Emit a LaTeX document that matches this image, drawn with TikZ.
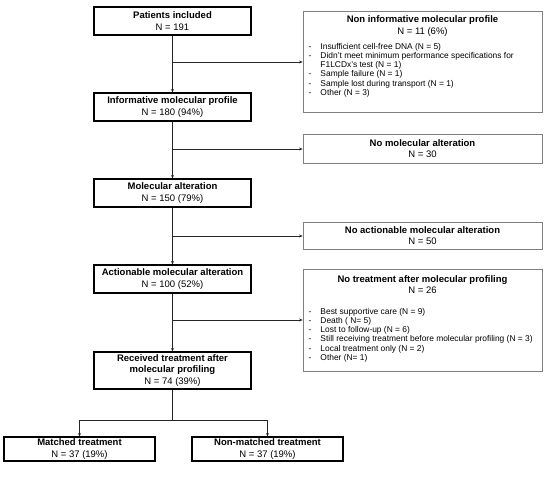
\documentclass[tikz,border=0pt]{standalone}
\usepackage{fontspec}
\setmainfont{Liberation Sans}
\usetikzlibrary{arrows.meta}
\begin{document}
\begin{tikzpicture}[x=1pt,y=-1pt,
  mainbox/.style={draw=black,line width=1.1pt,inner sep=0pt,align=center,
    font=\fontsize{9.5}{11.4}\selectfont,minimum width=157pt,minimum height=28pt},
  botbox/.style={mainbox,minimum width=151pt,minimum height=24pt},
  sidebox/.style={draw=black!50,line width=0.8pt,inner sep=0pt,minimum width=239pt},
  sidetitle/.style={inner sep=0pt,align=center,font=\fontsize{9.5}{11.4}\selectfont},
  bullets/.style={inner sep=0pt,anchor=west,font=\fontsize{8.4}{9.2}\selectfont},
  conn/.style={draw=black!85,line width=0.8pt},
  arr/.style={conn,-{Stealth[length=3.5pt,width=3pt]}}
]
\path[fill=white] (0,0) rectangle (550,485);
\useasboundingbox (0,0) rectangle (550,485);

% main column
\node[mainbox] (pat) at (172.5,21) {\textbf{Patients included}\\N = 191};
\node[mainbox] (inf) at (172.5,107) {\textbf{Informative molecular profile}\\N = 180 (94\%)};
\node[mainbox] (mol) at (172.5,193) {\textbf{Molecular alteration}\\N = 150 (79\%)};
\node[mainbox] (act) at (172.5,279) {\textbf{Actionable molecular alteration}\\N = 100 (52\%)};
\node[mainbox,minimum height=37pt] (rec) at (172.5,370.5) {\textbf{Received treatment after}\\\textbf{molecular profiling}\\N = 74 (39\%)};
\node[botbox] (mat) at (79.5,449) {\textbf{Matched treatment}\\N = 37 (19\%)};
\node[botbox] (non) at (267.5,449) {\textbf{Non-matched treatment}\\N = 37 (19\%)};

% side boxes
\node[sidebox,minimum height=101pt] (r1) at (422.5,61.5) {};
\node[sidetitle] (r1t) at (422.5,26) {\textbf{Non informative molecular profile}\\N = 11 (6\%)};
\node[bullets] (r1b) at (308.5,70.5) {\begin{tabular}{@{}l@{\hspace{9pt}}l@{}}
-&Insufficient cell-free DNA (N = 5)\\
-&Didn't meet minimum performance specifications for\\
&F1LCDx's test (N = 1)\\
-&Sample failure (N = 1)\\
-&Sample lost during transport (N = 1)\\
-&Other (N = 3)
\end{tabular}};

\node[sidebox,minimum height=29pt] (r2) at (422.5,148.5) {};
\node[sidetitle] (r2t) at (r2.center) {\textbf{No molecular alteration}\\N = 30};

\node[sidebox,minimum height=27pt] (r3) at (422.5,235.5) {};
\node[sidetitle] (r3t) at (r3.center) {\textbf{No actionable molecular alteration}\\N = 50};

\node[sidebox,minimum height=102pt] (r4) at (422.5,320) {};
\node[sidetitle] (r4t) at (422.5,284.5) {\textbf{No treatment after molecular profiling}\\N = 26};
\node[bullets] (r4b) at (308.5,335.5) {\begin{tabular}{@{}l@{\hspace{9pt}}l@{}}
-&Best supportive care (N = 9)\\
-&Death ( N= 5)\\
-&Lost to follow-up (N = 6)\\
-&Still receiving treatment before molecular profiling (N = 3)\\
-&Local treatment only (N = 2)\\
-&Other (N= 1)
\end{tabular}};

% branch points
\coordinate (b1) at (172.5,62);
\coordinate (b2) at (172.5,149);
\coordinate (b3) at (172.5,236);
\coordinate (b4) at (172.5,320);
\coordinate (sp) at (172.5,420);

% connectors
\draw[arr] (pat.south) -- (inf.north);
\draw[arr] (inf.south) -- (mol.north);
\draw[arr] (mol.south) -- (act.north);
\draw[arr] (act.south) -- (rec.north);
\draw[arr] (b1) -- (r1.west |- b1);
\draw[arr] (b2) -- (r2.west |- b2);
\draw[arr] (b3) -- (r3.west |- b3);
\draw[arr] (b4) -- (r4.west |- b4);
\draw[conn] (rec.south) -- (sp);
\draw[arr] (sp) -| (mat.north);
\draw[arr] (sp) -| (non.north);
\end{tikzpicture}
\end{document}
